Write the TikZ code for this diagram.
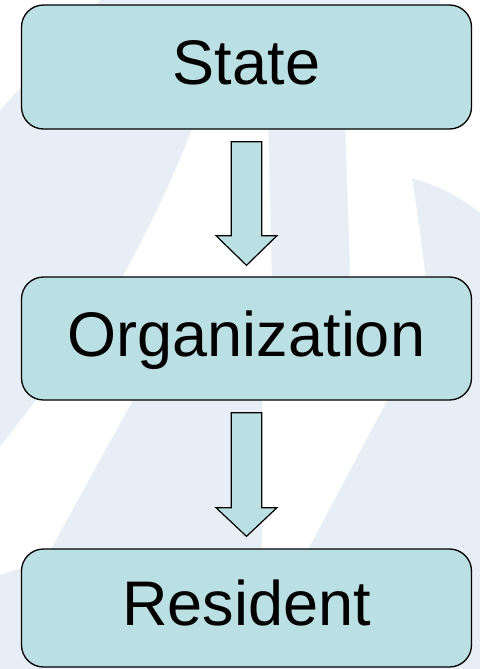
\documentclass[tikz,border=0pt]{standalone}
\usepackage{fontspec}
\setmainfont{Liberation Sans}
\usetikzlibrary{calc}
\definecolor{boxfill}{HTML}{BBE0E3}
\definecolor{pale}{HTML}{E7EEF5}
\tikzset{
  level/.style={draw=black, line width=1.3pt, fill=boxfill, rounded corners=22pt,
    minimum width=450pt, inner sep=0pt, font=\fontsize{63}{63}\selectfont,
    text height=35pt, text depth=0pt},
  blockarrow/.style={draw=black, line width=1.2pt, fill=boxfill, line join=miter},
  wm/.style={fill=white, draw=none}
}
\begin{document}
\begin{tikzpicture}[x=1pt,y=-1pt]
\useasboundingbox (0,0) rectangle (480,669);
% watermark background
\fill[pale] (0,0) rectangle (480,669);
\fill[wm] (0,0) -- (100,0) -- (0,110) -- cycle;
\fill[wm] (440,0) rectangle (480,140);
\fill[wm] (195,120) .. controls (172,185) and (142,240) .. (120,282) -- (272,282) -- (268,120) -- cycle;
\fill[wm] (345,120) .. controls (347,180) and (349,230) .. (350,282) -- (426,282)
  .. controls (421,235) and (416,205) .. (412,178)
  .. controls (440,186) and (462,198) .. (482,214) -- (482,120) -- cycle;
\fill[wm] (40,395) -- (136,395) .. controls (105,450) and (75,505) .. (45,560) -- (0,575) -- (0,447) -- cycle;
\fill[wm] (262,395) -- (390,395) -- (305,555) -- (262,555) -- cycle;
% boxes
\node[level, minimum height=124pt] (state) at (246.5,67) {State};
\node[level, minimum height=123pt] (org) at (246.5,338.5) {Organization};
\node[level, minimum height=118pt] (res) at (246.5,608) {Resident};
% block arrows
\draw[blockarrow] ($(state.south)+(-15.25,12)$) -- ($(state.south)+(15.25,12)$)
  -- ($(state.south)+(15.25,106)$) -- ($(state.south)+(30.5,106)$)
  -- ($(org.north)+(0,-11)$) -- ($(state.south)+(-30.5,106)$)
  -- ($(state.south)+(-15.25,106)$) -- cycle;
\draw[blockarrow] ($(org.south)+(-15.25,12)$) -- ($(org.south)+(15.25,12)$)
  -- ($(org.south)+(15.25,107)$) -- ($(org.south)+(30.5,107)$)
  -- ($(res.north)+(0,-12)$) -- ($(org.south)+(-30.5,107)$)
  -- ($(org.south)+(-15.25,107)$) -- cycle;
\end{tikzpicture}
\end{document}
